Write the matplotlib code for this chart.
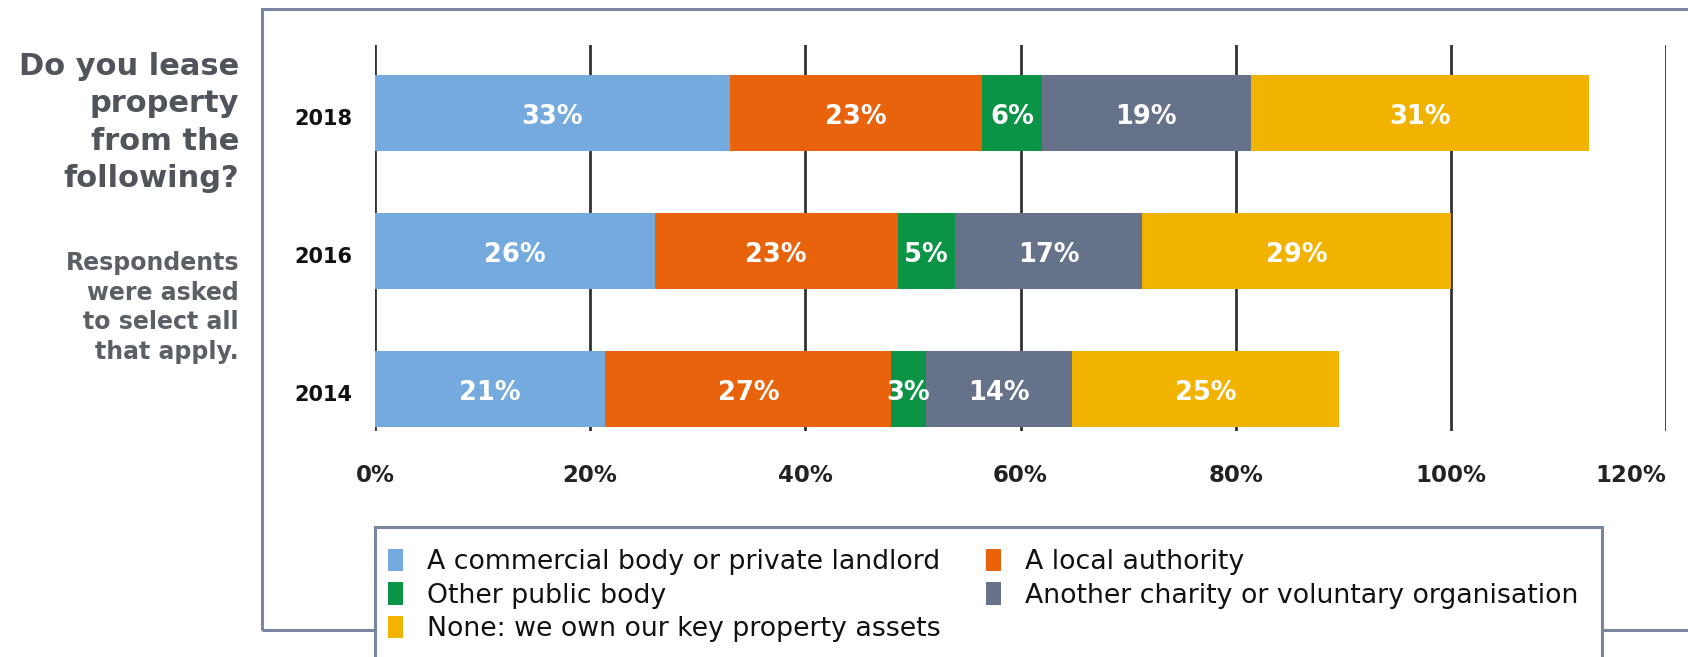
import numpy as np
import matplotlib
matplotlib.use("Agg")
import matplotlib.pyplot as plt
from matplotlib.patches import Rectangle, Patch

# datos
years = ["2014", "2016", "2018"]
commercial = [21.4, 26.0, 33.0]
local_auth = [26.6, 22.6, 23.4]
other_public = [3.2, 5.3, 5.6]
another_charity = [13.6, 17.4, 19.4]
none_own = [24.8, 28.7, 31.4]
series_labels = ["A commercial body or private landlord", "A local authority",
                 "Other public body", "Another charity or voluntary organisation",
                 "None: we own our key property assets"]
colores = ["#74aadd", "#e8630b", "#0c9446", "#667289", "#f2b300"]
xticks = [0, 20, 40, 60, 80, 100, 120]

plt.rcParams['font.family'] = ['DejaVu Sans']

W, H = 1688, 657
fig = plt.figure(figsize=(W / 100, H / 100), dpi=100)
fig.patch.set_facecolor("white")

def fx(px):
    return px / W

def fy(py):
    return 1 - py / H

ax = fig.add_axes([fx(375), fy(431), fx(1291), 386 / H])

series = [commercial, local_auth, other_public, another_charity, none_own]
y = np.arange(len(years))
izq = np.zeros(len(years))
for vals, col in zip(series, colores):
    vals = np.array(vals)
    ax.barh(y, vals, left=izq, height=0.55, color=col, zorder=3)
    for yi, v, l in zip(y, vals, izq):
        ax.text(l + v / 2, yi - 0.03, "%d%%" % round(v), ha="center", va="center",
                color="white", fontsize=18.5, fontweight="bold", zorder=4)
    izq = izq + vals

ax.set_xlim(0, 120)
ax.set_ylim(-0.304, 2.493)
ax.set_xticks(xticks)
ax.set_xticklabels(["%d%%" % t for t in xticks])
ax.set_yticks(y - 0.03)
ax.set_yticklabels(years)
ax.tick_params(axis="x", length=0, pad=24, labelsize=16.5, labelcolor="#222222")
ax.tick_params(axis="y", length=0, pad=16, labelsize=15, labelcolor="#111111")
for lab in ax.get_xticklabels() + ax.get_yticklabels():
    lab.set_fontweight("bold")
# la etiqueta de 120% queda pegada al borde
ax.get_xticklabels()[-1].set_horizontalalignment("right")
ax.get_xticklabels()[-1].set_x(121.8)
ax.grid(axis="x", color="#333333", linewidth=2, zorder=0)
ax.set_axisbelow(True)
for s in ax.spines.values():
    s.set_visible(False)

# marco exterior
marco = "#7886a0"
fig.patches.append(Rectangle((fx(262), fy(630)), 1.2, fy(9) - fy(630),
                             transform=fig.transFigure, fill=False,
                             edgecolor=marco, linewidth=2.2, zorder=1))
# caja de la leyenda
fig.patches.append(Rectangle((fx(375), fy(700)), fx(1602 - 375), fy(527) - fy(700),
                             transform=fig.transFigure, facecolor="white",
                             edgecolor=marco, linewidth=2.2, zorder=2))

# textos de la izquierda
fig.text(fx(239), fy(52), "Do you lease\nproperty\nfrom the\nfollowing?",
         ha="right", va="top", fontsize=22, fontweight="bold",
         color="#50555c", linespacing=1.36)
fig.text(fx(239), fy(251), "Respondents\nwere asked\nto select all\nthat apply.",
         ha="right", va="top", fontsize=17, fontweight="bold",
         color="#5b6067", linespacing=1.3)

# leyenda (orden por filas)
handles = [Patch(facecolor=c, edgecolor="none") for c in colores]
orden = [0, 2, 4, 1, 3]
leg = fig.legend([handles[i] for i in orden], [series_labels[i] for i in orden],
                 ncol=2, loc="upper left", bbox_to_anchor=(fx(388), fy(549)),
                 frameon=False, fontsize=19.3, borderpad=0, borderaxespad=0,
                 handlelength=0.55, handleheight=0.9, handletextpad=0.9,
                 labelspacing=0.26, columnspacing=1.7)
leg.set_zorder(5)
for t in leg.get_texts():
    t.set_color("#111111")

fig.savefig("out.png", dpi=100)
